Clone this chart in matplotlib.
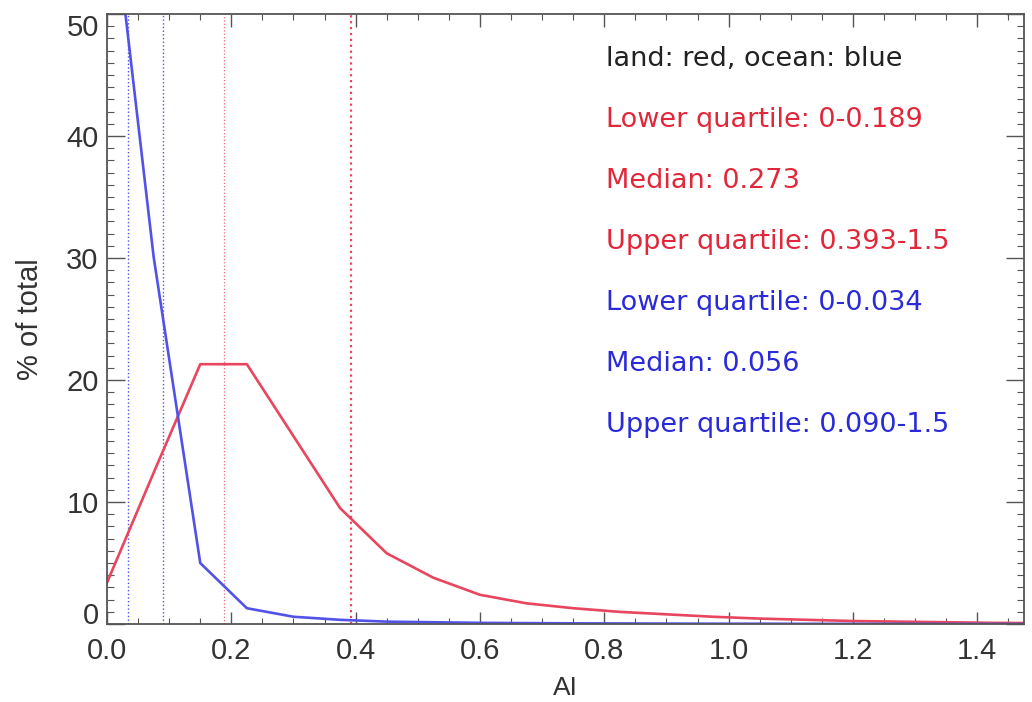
import matplotlib.pyplot as plt
from matplotlib.ticker import MultipleLocator

plt.rcParams['font.family'] = ['Liberation Sans', 'DejaVu Sans']

# --- data ---
ai = [0.0, 0.075, 0.15, 0.225, 0.3, 0.375, 0.45, 0.525, 0.6, 0.675, 0.75,
      0.825, 0.9, 0.975, 1.05, 1.125, 1.2, 1.275, 1.35, 1.425, 1.5]
land = [3.4, 12.4, 21.3, 21.3, 15.4, 9.5, 5.8, 3.8, 2.4, 1.7, 1.3,
        1.0, 0.8, 0.6, 0.45, 0.35, 0.25, 0.2, 0.15, 0.1, 0.08]
ocean = [63.0, 30.1, 5.0, 1.3, 0.6, 0.35, 0.2, 0.15, 0.1, 0.08, 0.06,
         0.05, 0.04, 0.03, 0.03, 0.02, 0.02, 0.02, 0.01, 0.01, 0.01]

land_quartiles = [0.189, 0.393]
ocean_quartiles = [0.034, 0.090]

x_ticks = [0.0, 0.2, 0.4, 0.6, 0.8, 1.0, 1.2, 1.4]
x_ticklabels = ['0.0', '0.2', '0.4', '0.6', '0.8', '1.0', '1.2', '1.4']
y_ticks = [0, 10, 20, 30, 40, 50]

labels = ['land: red, ocean: blue',
          'Lower quartile: 0-0.189',
          'Median: 0.273',
          'Upper quartile: 0.393-1.5',
          'Lower quartile: 0-0.034',
          'Median: 0.056',
          'Upper quartile: 0.090-1.5']
label_colors = ['#222222', '#e0283a', '#e0283a', '#e0283a',
                '#2a2ad8', '#2a2ad8', '#2a2ad8']

red = '#e8465e'
blue = '#5252e8'

fig = plt.figure(figsize=(10.32, 7.02), dpi=100)
ax = fig.add_axes([0.1037, 0.111, 0.889, 0.869])

# quartile markers
for q in ocean_quartiles:
    ax.axvline(q, color=blue, linestyle=':', linewidth=1.0)
ax.axvline(land_quartiles[0], color=red, linestyle=':', linewidth=0.9, alpha=0.8)
ax.axvline(land_quartiles[1], color=red, linestyle=':', linewidth=1.6)

ax.plot(ai, land, color=red, linewidth=1.9)
ax.plot(ai, ocean, color=blue, linewidth=1.9)

ax.set_xlim(0, 1.476)
ax.set_ylim(0, 50)
ax.set_xticks(x_ticks)
ax.set_xticklabels(x_ticklabels)
ax.set_yticks(y_ticks)
ax.xaxis.set_minor_locator(MultipleLocator(0.05))
ax.yaxis.set_minor_locator(MultipleLocator(1))

ax.tick_params(which='both', direction='in', top=True, right=True,
               colors='#555555', labelcolor='#333333', labelsize=21)
ax.tick_params(axis='x', which='major', length=9, width=1.0, pad=9)
ax.tick_params(axis='x', which='minor', length=4, width=0.8)
ax.tick_params(axis='y', which='major', length=13, width=1.0, pad=6)
ax.tick_params(axis='y', which='minor', length=5, width=0.8)
for s in ax.spines.values():
    s.set_color('#555555')
    s.set_linewidth(1.3)

# end labels of the y axis sit inside the axis range, like the original
yt = ax.yaxis.get_major_ticks()
yt[0].label1.set_verticalalignment('baseline')
yt[-1].label1.set_verticalalignment('top')

ax.set_xlabel('AI', fontsize=19, color='#333333', labelpad=8)
ax.set_ylabel('% of total', fontsize=21, color='#333333', labelpad=16)

# annotation block
y0 = 46.3
for i, (txt, c) in enumerate(zip(labels, label_colors)):
    ax.text(0.802, y0 - i * 5.0, txt, color=c, fontsize=19.5, va='center', ha='left',
            family=['DejaVu Sans'])

fig.savefig('out.png', dpi=100)
